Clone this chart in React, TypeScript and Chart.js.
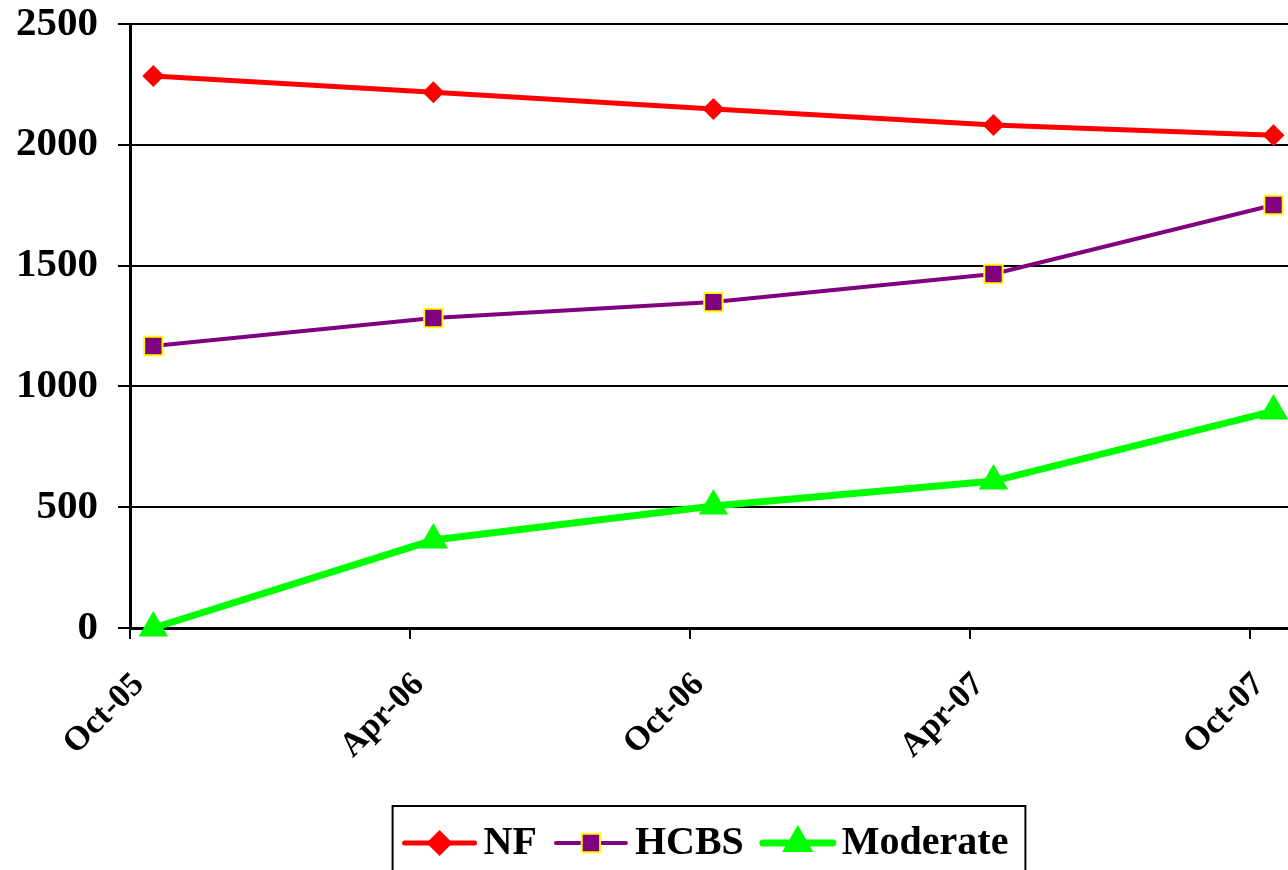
import React, { useEffect, useRef } from "react";
import { Chart, registerables } from "chart.js";

Chart.register(...registerables);

// ---- data ----
const tickLabels = ["Oct-05", "Apr-06", "Oct-06", "Apr-07", "Oct-07"];
const tickMonths = [0, 6, 12, 18, 24];
const pointMonths = [0.5, 6.5, 12.5, 18.5, 24.5];
const nfValues = [2285, 2218, 2148, 2082, 2040];
const hcbsValues = [1167, 1283, 1349, 1465, 1751];
const moderateValues = [0, 364, 505, 608, 898];
const seriesNames = ["NF", "HCBS", "Moderate"];
const yTicks = [0, 500, 1000, 1500, 2000, 2500];

const FONT = "'Liberation Serif', 'Times New Roman', serif";

function drawMarker(ctx: CanvasRenderingContext2D, style: string, x: number, y: number, r: number) {
  ctx.beginPath();
  if (style === "rectRot") {
    ctx.moveTo(x - r, y);
    ctx.lineTo(x, y - r);
    ctx.lineTo(x + r, y);
    ctx.lineTo(x, y + r);
  } else if (style === "rect") {
    const s = Math.SQRT1_2 * r;
    ctx.rect(x - s, y - s, 2 * s, 2 * s);
  } else {
    const w = r * 0.866;
    ctx.moveTo(x, y - r);
    ctx.lineTo(x + w, y + r / 2);
    ctx.lineTo(x - w, y + r / 2);
  }
  ctx.closePath();
}

const boxLegend = {
  id: "boxLegend",
  afterDraw(chart: any) {
    const ctx: CanvasRenderingContext2D = chart.ctx;
    const area = chart.chartArea;
    ctx.save();
    ctx.font = `bold 40px ${FONT}`;
    const lineLen = 70;
    const padL = 12;
    const padR = 17;
    const gapText = 9;
    const gapItem = 19;
    const items = chart.data.datasets.map((ds: any) => ({
      ds,
      tw: ctx.measureText(ds.label).width,
    }));
    let total = padL + padR;
    items.forEach((it: any, i: number) => {
      total += lineLen + gapText + it.tw + (i < items.length - 1 ? gapItem : 0);
    });
    const cx = (area.left + area.right) / 2;
    const left = cx - total / 2;
    const top = 806;
    const cy = 843;
    ctx.lineWidth = 2;
    ctx.strokeStyle = "#000";
    ctx.strokeRect(left, top, total, 90);
    let x = left + padL;
    items.forEach((it: any) => {
      const ds = it.ds;
      ctx.beginPath();
      ctx.lineCap = "round";
      ctx.lineWidth = ds.borderWidth;
      ctx.strokeStyle = ds.borderColor;
      ctx.moveTo(x, cy);
      ctx.lineTo(x + lineLen, cy);
      ctx.stroke();
      drawMarker(ctx, ds.pointStyle, x + lineLen / 2, cy, ds.legendRadius);
      ctx.fillStyle = ds.pointBackgroundColor;
      ctx.fill();
      if (ds.pointBorderWidth > 0) {
        ctx.lineWidth = ds.pointBorderWidth;
        ctx.strokeStyle = ds.pointBorderColor;
        ctx.stroke();
      }
      x += lineLen + gapText;
      ctx.fillStyle = "#000";
      ctx.textBaseline = "middle";
      ctx.textAlign = "left";
      ctx.fillText(ds.label, x, cy + 1);
      x += it.tw + gapItem;
    });
    ctx.restore();
  },
};

export default function App() {
  const ref = useRef<HTMLCanvasElement | null>(null);

  useEffect(() => {
    document.body.style.margin = "0";
    const canvas = ref.current;
    if (!canvas) return;
    const toPts = (vals: number[]) => pointMonths.map((m, i) => ({ x: m, y: vals[i] }));
    const chart = new Chart(canvas, {
      type: "line",
      data: {
        datasets: [
          {
            label: seriesNames[0],
            data: toPts(nfValues),
            borderColor: "#FF0000",
            borderWidth: 5,
            pointStyle: "rectRot",
            pointRadius: 11,
            pointBackgroundColor: "#FF0000",
            pointBorderColor: "#FF0000",
            pointBorderWidth: 0,
            legendRadius: 13,
            clip: false,
          } as any,
          {
            label: seriesNames[1],
            data: toPts(hcbsValues),
            borderColor: "#800080",
            borderWidth: 4,
            pointStyle: "rect",
            pointRadius: 13,
            pointBackgroundColor: "#800080",
            pointBorderColor: "#FFFF00",
            pointBorderWidth: 2,
            legendRadius: 13,
            clip: false,
          } as any,
          {
            label: seriesNames[2],
            data: toPts(moderateValues),
            borderColor: "#00FF00",
            borderWidth: 7,
            pointStyle: "triangle",
            pointRadius: 17,
            pointBackgroundColor: "#00FF00",
            pointBorderColor: "#00FF00",
            pointBorderWidth: 0,
            legendRadius: 18,
            clip: false,
          } as any,
        ],
      },
      options: {
        animation: false,
        responsive: false,
        maintainAspectRatio: false,
        layout: { autoPadding: false, padding: { top: 24, right: 0, left: 0, bottom: 0 } },
        plugins: {
          legend: { display: false },
          tooltip: { enabled: false },
        },
        elements: { line: { tension: 0 } },
        scales: {
          x: {
            type: "linear",
            min: 0,
            max: 24.81,
            afterBuildTicks: (scale: any) => {
              scale.ticks = tickMonths.map((v) => ({ value: v }));
            },
            afterFit: (scale: any) => {
              scale.height = 242;
              scale.paddingLeft = 0;
              scale.paddingRight = 0;
            },
            ticks: {
              autoSkip: false,
              minRotation: 45,
              maxRotation: 45,
              padding: 26,
              labelOffset: 9,
              color: "#000",
              font: { family: FONT, size: 34, weight: "bold" },
              callback: (v: any) => {
                const i = tickMonths.indexOf(Number(v));
                return i >= 0 ? tickLabels[i] : "";
              },
            },
            grid: {
              drawOnChartArea: false,
              drawTicks: true,
              tickLength: 11,
              color: "#000",
              lineWidth: 2,
            },
            border: { color: "#000", width: 3 },
          },
          y: {
            min: 0,
            max: 2500,
            afterBuildTicks: (scale: any) => {
              scale.ticks = yTicks.map((v) => ({ value: v }));
            },
            afterFit: (scale: any) => {
              scale.width = 130;
              scale.paddingTop = 0;
              scale.paddingBottom = 0;
            },
            ticks: {
              padding: 20,
              color: "#000",
              font: { family: FONT, size: 41, weight: "bold" },
              callback: (v: any) => String(v),
            },
            grid: {
              drawOnChartArea: true,
              drawTicks: true,
              tickLength: 12,
              color: "#000",
              lineWidth: 2,
            },
            border: { color: "#000", width: 3 },
          },
        },
      } as any,
      plugins: [boxLegend],
    });
    return () => chart.destroy();
  }, []);

  return <canvas ref={ref} width={1288} height={870} style={{ display: "block" }} />;
}
